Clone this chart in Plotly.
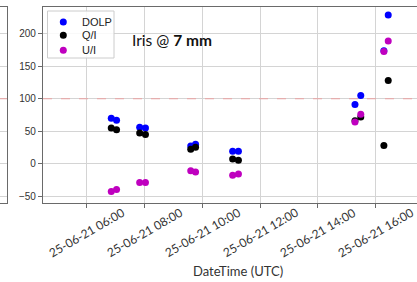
import plotly.graph_objects as go

# ---- data ----
times = ["2021-06-25 06:51", "2021-06-25 07:02", "2021-06-25 07:50", "2021-06-25 08:02",
         "2021-06-25 09:36", "2021-06-25 09:46", "2021-06-25 11:03", "2021-06-25 11:15",
         "2021-06-25 15:17", "2021-06-25 15:29", "2021-06-25 16:17", "2021-06-25 16:26"]
dolp = [70, 67, 56, 55, 27, 30, 19, 19, 91, 105, 174, 229]
q_i = [55, 52, 47, 45, 22, 25, 7, 5, 66, 72, 28, 128]
u_i = [-43, -40, -29, -29, -11, -13, -18, -16, 64, 76, 173, 189]

series_names = ["DOLP", "Q/I", "U/I"]
series_colors = ["#0000ff", "#000000", "#bf00bf"]

x_tickvals = ["2021-06-25 06:00", "2021-06-25 08:00", "2021-06-25 10:00",
              "2021-06-25 12:00", "2021-06-25 14:00", "2021-06-25 16:00"]
x_ticktext = ["25-06-21 06:00", "25-06-21 08:00", "25-06-21 10:00",
              "25-06-21 12:00", "25-06-21 14:00", "25-06-21 16:00"]
y_tickvals = [-50, 0, 50, 100, 150, 200]
y_ticktext = ["\u221250", "0", "50", "100", "150", "200"]
ref_level = 100
title_text = "Iris @ <b>7 mm</b>"
x_title = "DateTime (UTC)"

# ---- figure ----
W, H = 417, 282
MT, MB = 7, 79
PH = H - MT - MB


def px(xp):
    return xp / W


def py(yp):
    return (MT + PH - yp) / PH


fig = go.Figure()
for name, vals, col in zip(series_names, [dolp, q_i, u_i], series_colors):
    fig.add_trace(go.Scatter(x=times, y=vals, mode="markers", name=name,
                             marker=dict(color=col, size=7, line=dict(width=0)),
                             showlegend=False, xaxis="x", yaxis="y"))

grid_c = "#d4d4d4"
line_c = "#6a6a6a"
yr = [-60.8, 241.5]

fig.update_layout(
    width=W, height=H,
    margin=dict(l=0, r=0, t=MT, b=MB),
    paper_bgcolor="white", plot_bgcolor="white",
    xaxis=dict(domain=[43 / W, 1], type="date",
               range=["2021-06-25 04:29:17", "2021-06-25 17:25:44"],
               tickvals=x_tickvals, showticklabels=False,
               ticks="outside", ticklen=4, tickcolor=line_c, tickwidth=1,
               showgrid=True, gridcolor=grid_c, gridwidth=1.2,
               showline=True, linecolor=line_c, linewidth=1.2, mirror=True,
               zeroline=False, anchor="y"),
    yaxis=dict(range=yr, tickvals=y_tickvals, ticktext=y_ticktext,
               ticks="outside", ticklen=4, tickcolor=line_c, tickwidth=1,
               tickfont=dict(family="Liberation Sans", size=10, color="#333"),
               showgrid=True, gridcolor=grid_c, gridwidth=1.2,
               showline=True, linecolor=line_c, linewidth=1.2, mirror=False,
               zeroline=False, anchor="x"),
    xaxis2=dict(domain=[0, 7 / W], range=[0, 1], showgrid=False, showticklabels=False,
                ticks="", showline=True, linecolor=line_c, linewidth=1.2, mirror=True,
                zeroline=False, anchor="y2"),
    yaxis2=dict(range=yr, tickvals=y_tickvals, showticklabels=False, ticks="",
                side="right", showline=True, linecolor=line_c, linewidth=1.2,
                showgrid=True, gridcolor=grid_c, gridwidth=1.2, zeroline=False,
                anchor="x2"),
    showlegend=False,
)

shapes = [
    dict(type="line", xref="x domain", yref="y", x0=0, x1=1, y0=ref_level, y1=ref_level,
         line=dict(color="#eba3a3", width=1, dash="dash"), layer="above"),
    dict(type="line", xref="x2 domain", yref="y2", x0=0, x1=1, y0=ref_level, y1=ref_level,
         line=dict(color="#eba3a3", width=1, dash="dash"), layer="above"),
    # legend box
    dict(type="rect", xref="paper", yref="paper", x0=px(47.5), x1=px(114), y0=py(58), y1=py(11),
         line=dict(color="#cccccc", width=1), fillcolor="rgba(255,255,255,0.85)", layer="above"),
]
leg_y = [22, 35.3, 50.3]
annotations = []
for name, col, ly in zip(series_names, series_colors, leg_y):
    shapes.append(dict(type="circle", xref="paper", yref="paper",
                       xsizemode="pixel", ysizemode="pixel",
                       xanchor=px(63.3), yanchor=py(ly), x0=-3.5, x1=3.5, y0=-3.5, y1=3.5,
                       fillcolor=col, line=dict(width=0), layer="above"))
    annotations.append(dict(text=name, xref="paper", yref="paper", x=px(79.5), y=py(ly),
                            xanchor="left", yanchor="middle", showarrow=False,
                            font=dict(family="Liberation Sans", size=11, color="#222")))

for tv, tt in zip(x_tickvals, x_ticktext):
    annotations.append(dict(text=tt, x=tv, xref="x", y=0, yref="paper", yshift=-29,
                            textangle=-30, xanchor="center", yanchor="middle",
                            showarrow=False,
                            font=dict(family="Lato", size=12, color="#333")))

annotations.append(dict(text=title_text, xref="paper", yref="paper", x=px(171.5), y=py(40),
                        xanchor="center", yanchor="middle", showarrow=False,
                        font=dict(family="Lato", size=15.5, color="#111")))
annotations.append(dict(text=x_title, xref="paper", yref="paper", x=px(238), y=0, yshift=-68,
                        xanchor="center", yanchor="middle", showarrow=False,
                        font=dict(family="Lato", size=13, color="#333")))

fig.update_layout(shapes=shapes, annotations=annotations)
fig.write_html("out.html", config={"displayModeBar": False},
               post_script="document.body.style.margin='0';document.body.style.overflow='hidden';")
